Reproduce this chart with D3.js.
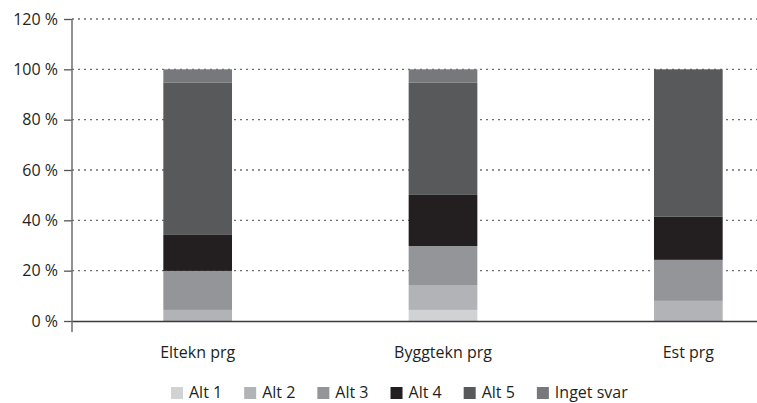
<!DOCTYPE html>
<html><head><meta charset="utf-8">
<script src="https://cdn.jsdelivr.net/npm/d3@7"></script>
<style>body{margin:0;background:#fff;} svg{display:block;font-family:"Open Sans",sans-serif;}</style>
</head><body><svg id="c" width="757" height="403"></svg>
<script>
const categories = ["Eltekn prg", "Byggtekn prg", "Est prg"];
const seriesNames = ["Alt 1", "Alt 2", "Alt 3", "Alt 4", "Alt 5", "Inget svar"];
const alt1 = [0, 4.4, 0];
const alt2 = [4.4, 9.9, 8.0];
const alt3 = [15.5, 15.5, 16.3];
const alt4 = [14.3, 20.3, 17.1];
const alt5 = [60.6, 44.7, 58.6];
const ingetSvar = [5.2, 5.2, 0];
const yTicks = [0, 20, 40, 60, 80, 100, 120];
const colors = ["#d1d2d4", "#b2b3b6", "#939598", "#231f20", "#58595b", "#77787b"];

const seriesValues = [alt1, alt2, alt3, alt4, alt5, ingetSvar];
const rows = categories.map((c, i) => {
  const r = {cat: c};
  seriesNames.forEach((s, j) => r[s] = seriesValues[j][i]);
  return r;
});
const stacked = d3.stack().keys(seriesNames)(rows);

const svg = d3.select("#c");
const x0 = 72, yTop = 19, yBottom = 321;
const x = d3.scaleBand().domain(categories).range([75, 811]).paddingInner(0.72).paddingOuter(0.36);
const y = d3.scaleLinear().domain([0, 120]).range([yBottom, yTop]);

// grid
svg.append("g").selectAll("line").data(yTicks.filter(d => d > 0)).join("line")
  .attr("x1", x0).attr("x2", 757).attr("y1", d => y(d)).attr("y2", d => y(d))
  .attr("stroke", "#6d6e71").attr("stroke-width", 1.3).attr("stroke-dasharray", "2,4");

// bars
svg.append("g").selectAll("g").data(stacked).join("g")
  .attr("fill", (d, i) => colors[i])
  .selectAll("rect").data(d => d).join("rect")
  .attr("x", d => x(d.data.cat)).attr("width", x.bandwidth())
  .attr("y", d => y(d[1])).attr("height", d => y(d[0]) - y(d[1]));

// baseline
svg.append("line").attr("x1", x0).attr("x2", 757).attr("y1", yBottom + 0.5).attr("y2", yBottom + 0.5)
  .attr("stroke", "#3a3a3c").attr("stroke-width", 1.5);

// y axis
const yAxis = d3.axisLeft(y).tickValues(yTicks).tickFormat(d => d + " %").tickSize(8).tickPadding(6);
const ya = svg.append("g").attr("transform", `translate(${x0},0)`).call(yAxis);
ya.select(".domain").remove();
ya.selectAll(".tick line").attr("stroke", "#555").attr("stroke-width", 1.3);
ya.selectAll(".tick text").attr("font-size", 16).attr("fill", "#231f20").attr("font-family", "Open Sans");
svg.append("line").attr("x1", x0).attr("x2", x0).attr("y1", yTop).attr("y2", 332)
  .attr("stroke", "#6d6e71").attr("stroke-width", 1.5);

// x labels
svg.append("g").selectAll("text").data(categories).join("text")
  .attr("x", d => x(d) + x.bandwidth() / 2).attr("y", 358)
  .attr("text-anchor", "middle").attr("font-size", 16).attr("fill", "#231f20").text(d => d);

// legend
const lg = svg.append("g");
let lx = 171;
seriesNames.forEach((s, i) => {
  lg.append("rect").attr("x", lx).attr("y", 387).attr("width", 12).attr("height", 12).attr("fill", colors[i]);
  const t = lg.append("text").attr("x", lx + 18).attr("y", 398).attr("font-size", 16).attr("fill", "#231f20").text(s);
  lx += 18 + t.node().getComputedTextLength() + 22;
});
</script></body></html>
